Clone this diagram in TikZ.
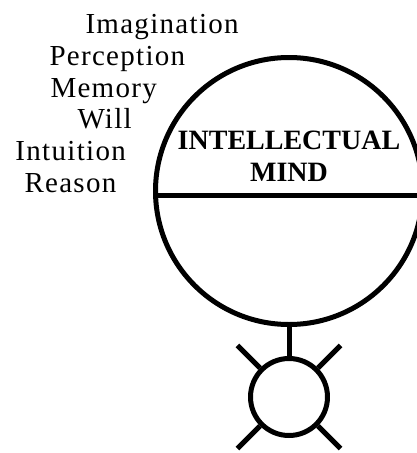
\documentclass[tikz,border=0pt]{standalone}
\usepackage{fontspec}
\setmainfont{Liberation Serif}
\newfontfamily\spacedfont[LetterSpace=4.5]{Liberation Serif}
\begin{document}
\begin{tikzpicture}[x=1pt, y=-1pt, line width=5pt, line join=round]
	\tikzset{faculty/.style={anchor=base west, inner sep=0pt, font=\spacedfont\fontsize{29}{33}\selectfont},
		title/.style={anchor=base, inner sep=0pt, font=\bfseries\fontsize{28}{32}\selectfont},
		orb/.style={circle, draw, inner sep=0pt}}
	\useasboundingbox (0,0) rectangle (416,453);
	\path (289,191) coordinate (M) (289,397) coordinate (S);
	\node [orb, minimum size=267pt] (mind) at (M) {};
	\node [orb, minimum size=77pt] (soul) at (S) {};
	\draw (mind.182.6)--(mind.-2.6);
	\draw (mind.south)--(soul.north);
	\foreach \a in {45,135,225,315}{
		\draw (soul.\a)--++(\a:32pt) coordinate (ray\a);
	}
	\foreach \t/\x/\y in {Imagination/83/33, Perception/47/65, Memory/48/97, Will/75/128, Intuition/13/160, Reason/22/192}{
		\node [faculty] (\t) at (\x,\y) {\t};
	}
	\node [title] (intellect) at (289,149) {INTELLECTUAL};
	\node [title] (mindword) at (289,181) {MIND};
\end{tikzpicture}
\end{document}
